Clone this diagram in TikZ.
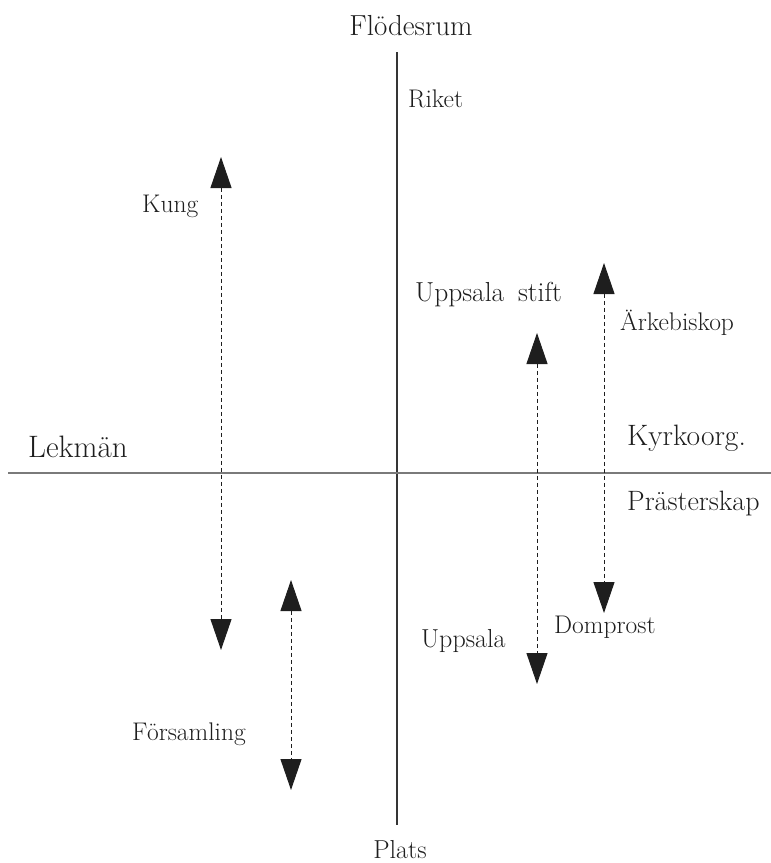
\documentclass[tikz,border=0pt]{standalone}
\usetikzlibrary{arrows.meta}
\definecolor{ink}{HTML}{1E1E1E}
\definecolor{axisgrey}{HTML}{7A7A7A}
\tikzset{
  lbl/.style={inner sep=0pt, anchor=base west, text=ink},
  big/.style={font=\fontsize{29}{31}\selectfont},
  small/.style={font=\fontsize{25.5}{27}\selectfont},
  flow/.style={draw=ink, line width=1pt, dash pattern=on 4pt off 3pt,
    {Triangle[length=31pt,width=21pt]}-{Triangle[length=31pt,width=21pt]}},
  vaxis/.style={draw=ink!90, line width=1.2pt},
  haxis/.style={draw=axisgrey, line width=2pt}
}
\begin{document}
\begin{tikzpicture}[x=1pt,y=-1pt]
\useasboundingbox (0,0) rectangle (771,863);
% axes
\coordinate (vtop) at (397,52);
\coordinate (vbot) at (397,825);
\coordinate (hl) at (8,473);
\coordinate (hr) at (771,473);
\draw[vaxis] (vtop) -- (vbot);
\draw[haxis] (hl) -- (hr);
% labels
\node[lbl,big,anchor=base] (flode) at (411,35) {Flödesrum};
\node[lbl,big,font=\fontsize{26}{28}\selectfont,anchor=base] (plats) at (400,858) {Plats};
\node[lbl,small] (riket) at (408,107) {Riket};
\node[lbl,small] (kung) at (142,212) {Kung};
\node[lbl,big,font=\fontsize{31}{33}\selectfont] (lekman) at (28,457) {Lekmän};
\node[lbl,big,font=\fontsize{27.5}{29}\selectfont] (ustift) at (415,301) {Uppsala\hspace{0.5em}stift};
\node[lbl,small] (arke) at (620,330) {Ärkebiskop};
\node[lbl,big,font=\fontsize{29.5}{31}\selectfont] (kyrko) at (627,445) {Kyrkoorg.};
\node[lbl,big,font=\fontsize{28}{30}\selectfont] (prast) at (627,510) {Prästerskap};
\node[lbl,big,font=\fontsize{26}{28}\selectfont] (uppsala) at (421,647) {Uppsala};
\node[lbl,small] (domprost) at (554,633) {Domprost};
\node[lbl,small] (forsamling) at (132,740) {Församling};
% arrows
\coordinate (kungT) at (221,157);
\coordinate (kungB) at (221,650);
\coordinate (forsT) at (291,580);
\coordinate (forsB) at (291,790);
\coordinate (upsT) at (537,333);
\coordinate (upsB) at (537,684);
\coordinate (arkT) at (604,263);
\coordinate (arkB) at (604,613);
\draw[flow] (kungT) -- (kungB);
\draw[flow] (forsT) -- (forsB);
\draw[flow] (upsT) -- (upsB);
\draw[flow] (arkT) -- (arkB);
\end{tikzpicture}
\end{document}
